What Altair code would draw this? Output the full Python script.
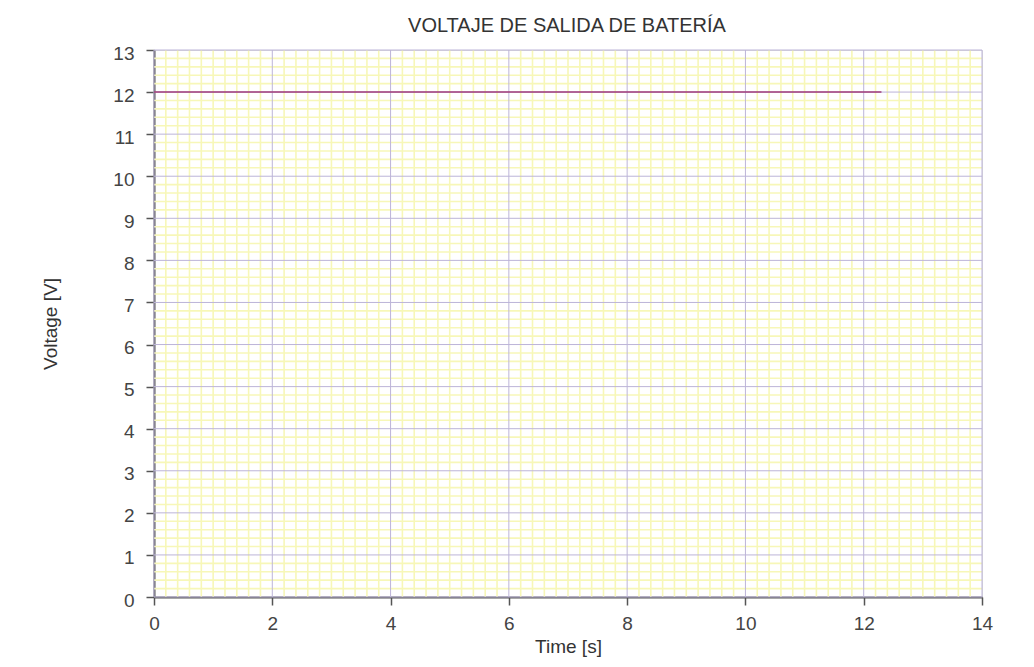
import altair as alt
import pandas as pd

# data
time_s = [0.0, 12.3]
voltage_v = [12.0, 12.0]

title_text = "VOLTAJE DE SALIDA DE BATERÍA"
x_title = "Time [s]"
y_title = "Voltage [V]"

x_major = [0, 2, 4, 6, 8, 10, 12, 14]
y_major = list(range(0, 14))

x_minor = [round(i * 0.2, 2) for i in range(0, 71) if i % 10 != 0]
y_minor = [round(i * 0.2, 2) for i in range(0, 66) if i % 5 != 0]

W, H = 828, 547
xs = alt.Scale(domain=[0, 14], nice=False, zero=False)
ys = alt.Scale(domain=[0, 13], nice=False, zero=False)

font = "Liberation Sans"

line_df = pd.DataFrame({"t": time_s, "v": voltage_v})

xaxis = alt.Axis(values=x_major, title=x_title, titleY=49, labelPadding=9)
yaxis = alt.Axis(values=y_major, title=y_title, titleX=-104, titleY=H / 2, labelPadding=12,
                 labelOffset=3)

minor_col = "#f7f7b8"
major_col = "#bcb4d8"

minor_x = alt.Chart(pd.DataFrame({"x": x_minor})).mark_rule(color=minor_col, strokeWidth=1.6).encode(
    x=alt.X("x:Q", scale=xs, axis=xaxis))
minor_y = alt.Chart(pd.DataFrame({"y": y_minor})).mark_rule(color=minor_col, strokeWidth=1.6).encode(
    y=alt.Y("y:Q", scale=ys, axis=yaxis))
major_x = alt.Chart(pd.DataFrame({"x": x_major})).mark_rule(color=major_col, strokeWidth=1).encode(
    x=alt.X("x:Q", scale=xs, axis=xaxis))
major_y = alt.Chart(pd.DataFrame({"y": y_major})).mark_rule(color=major_col, strokeWidth=1).encode(
    y=alt.Y("y:Q", scale=ys, axis=yaxis))

line = alt.Chart(line_df).mark_line(color="#a03c78", strokeWidth=1.5).encode(
    x=alt.X("t:Q", scale=xs, axis=xaxis),
    y=alt.Y("v:Q", scale=ys, axis=yaxis),
)

title_mark = alt.Chart(pd.DataFrame({"label": [title_text]})).mark_text(
    fontSize=20, font=font, color="#333", align="center", baseline="middle"
).encode(text="label:N", x=alt.value(W / 2 - 1), y=alt.value(-24))

chart = alt.layer(minor_x, minor_y, major_x, major_y, line, title_mark).properties(
    width=W, height=H,
    autosize=alt.AutoSizeParams(type="none"),
    padding={"left": 146, "top": 42, "right": 44, "bottom": 62},
).configure_view(fill="#fdfde4", stroke=None).configure(background="white").configure_axis(
    grid=False, tickSize=8, labelFontSize=19, labelColor="#444", labelFont=font,
    domainColor="#555", domainWidth=2, tickColor="#555", tickWidth=1.5,
    titleFontSize=19, titleFontWeight="normal", titleColor="#333", titleFont=font,
    labelFlush=False, zindex=1,
).configure_axisX(titleBaseline="middle").configure_axisY(
    titleBaseline="middle", titleAlign="center", titleAngle=270)

chart.save("out.html", embed_options={"renderer": "svg", "actions": False})
